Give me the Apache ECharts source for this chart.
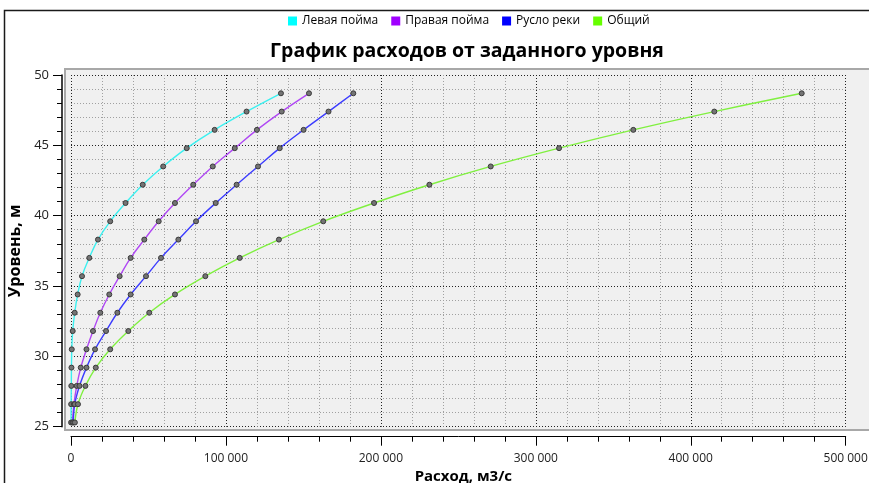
<!DOCTYPE html>
<html>
<head>
<meta charset="utf-8">
<script src="https://cdn.jsdelivr.net/npm/echarts@6/dist/echarts.min.js"></script>
<style>
  html, body { margin: 0; padding: 0; background: #ffffff; }
  #chart { width: 869px; height: 483px; }
</style>
</head>
<body>
<div id="chart"></div>
<script>
// Water levels, m
const levels = [25.3, 26.6, 27.9, 29.2, 30.5, 31.8, 33.1, 34.4, 35.7, 37.0, 38.3, 39.6, 40.9, 42.2, 43.5, 44.8, 46.1, 47.4, 48.7];

// Discharge, m3/s, per part of the cross-section
const leftFloodplain = [50, 100, 200, 300, 500, 1100, 2400, 4300, 7100, 11800, 17400, 25300, 35200, 46300, 59500, 74700, 92700, 113300, 135500];
const rightFloodplain = [900, 1900, 3700, 6300, 10000, 14200, 18900, 24700, 31400, 38500, 47300, 56600, 67100, 78900, 91500, 105700, 120000, 136000, 153600];
const riverChannel = [1500, 2400, 5500, 10000, 15500, 22600, 29900, 38500, 48400, 58100, 69300, 80700, 93400, 106900, 120700, 134700, 150100, 166200, 182200];
const totalFlow = [2500, 4500, 9300, 16000, 25300, 37000, 50500, 67100, 86700, 108900, 134200, 162800, 195600, 231300, 270900, 315000, 362900, 415200, 471600];

const seriesNames = ['Левая пойма', 'Правая пойма', 'Русло реки', 'Общий'];
const seriesValues = [leftFloodplain, rightFloodplain, riverChannel, totalFlow];
const legendColors = ['#00ffff', '#a000ff', '#0000ff', '#66ff00'];
const lineColors = ['#3cf0f0', '#b048f4', '#3c3cff', '#80f040'];

const xTicks = { min: 0, max: 500000, step: 100000 };
const yTicks = { min: 25, max: 50, step: 5 };

function spaced(v) {
  return String(v).replace(/\B(?=(\d{3})+(?!\d))/g, ' ');
}

const chart = echarts.init(document.getElementById('chart'), null, { renderer: 'canvas' });

const series = seriesNames.map((name, i) => ({
  name: name,
  type: 'line',
  data: seriesValues[i].map((q, k) => [q, levels[k]]),
  smooth: 0.4,
  symbol: 'circle',
  symbolSize: 5,
  showSymbol: true,
  lineStyle: { color: lineColors[i], width: 1.4 },
  itemStyle: { color: '#747474', borderColor: '#3a3a3a', borderWidth: 1 },
  emphasis: { disabled: true },
  z: 3
}));

chart.setOption({
  animation: false,
  textStyle: { fontFamily: '"Open Sans", "Noto Sans", sans-serif' },
  title: {
    text: 'График расходов от заданного уровня',
    left: 462,
    top: 36,
    textAlign: 'center',
    textStyle: { fontSize: 19.5, fontWeight: 'bold', color: '#000000', fontFamily: '"Open Sans", sans-serif' }
  },
  legend: {
    top: 10,
    left: 283,
    icon: 'rect',
    itemWidth: 9,
    itemHeight: 9,
    itemGap: 13,
    textStyle: { fontSize: 12, color: '#000000', fontFamily: '"Open Sans", sans-serif' },
    data: seriesNames.map((n, i) => ({ name: n, itemStyle: { color: legendColors[i], borderWidth: 0 } }))
  },
  graphic: [
    {
      type: 'rect', z: -20, silent: true,
      shape: { x: 4.5, y: 10.5, width: 1000, height: 1000 },
      style: { fill: '#ffffff', stroke: '#1a1a1a', lineWidth: 1.5 }
    },
    {
      type: 'rect', z: -10, silent: true,
      shape: { x: 65, y: 69, width: 900, height: 361 },
      style: { fill: '#f0f0f0', stroke: '#a8a8a8', lineWidth: 2 }
    }
  ],
  grid: {
    left: 71,
    right: 23.3,
    top: 75,
    bottom: 56.3,
    containLabel: false,
    outerBoundsMode: 'none'
  },
  xAxis: {
    type: 'value',
    min: xTicks.min,
    max: xTicks.max,
    interval: xTicks.step,
    offset: 10,
    name: 'Расход, м3/с',
    nameLocation: 'middle',
    nameGap: 30,
    nameTextStyle: { fontSize: 15, fontWeight: 'bold', color: '#000000', padding: [0, 0, 0, 10] },
    axisLine: { show: true, onZero: false, lineStyle: { color: '#000000', width: 1 } },
    axisTick: { show: true, inside: false, length: 9, lineStyle: { color: '#000000' } },
    minorTick: { show: true, splitNumber: 5, length: 5, lineStyle: { color: '#000000' } },
    axisLabel: { fontSize: 12, color: '#222222', margin: 16, formatter: spaced },
    splitLine: { show: true, lineStyle: { color: '#222222', type: [1, 2], width: 1 } },
    minorSplitLine: { show: true, lineStyle: { color: '#a0a0a0', type: [1, 2], width: 1 } }
  },
  yAxis: {
    type: 'value',
    min: yTicks.min,
    max: yTicks.max,
    interval: yTicks.step,
    offset: 9,
    name: 'Уровень, м',
    nameLocation: 'middle',
    nameGap: 31,
    nameTextStyle: { fontSize: 16, fontWeight: 'bold', color: '#000000' },
    axisLine: { show: true, onZero: false, lineStyle: { color: '#000000', width: 1.5 } },
    axisTick: { show: true, inside: false, length: 9, lineStyle: { color: '#000000' } },
    minorTick: { show: true, splitNumber: 5, length: 5, lineStyle: { color: '#000000' } },
    axisLabel: { fontSize: 13, color: '#222222', margin: 13 },
    splitLine: { show: true, lineStyle: { color: '#222222', type: [1, 2], width: 1 } },
    minorSplitLine: { show: true, lineStyle: { color: '#a0a0a0', type: [1, 2], width: 1 } }
  },
  series: series
});
</script>
</body>
</html>
